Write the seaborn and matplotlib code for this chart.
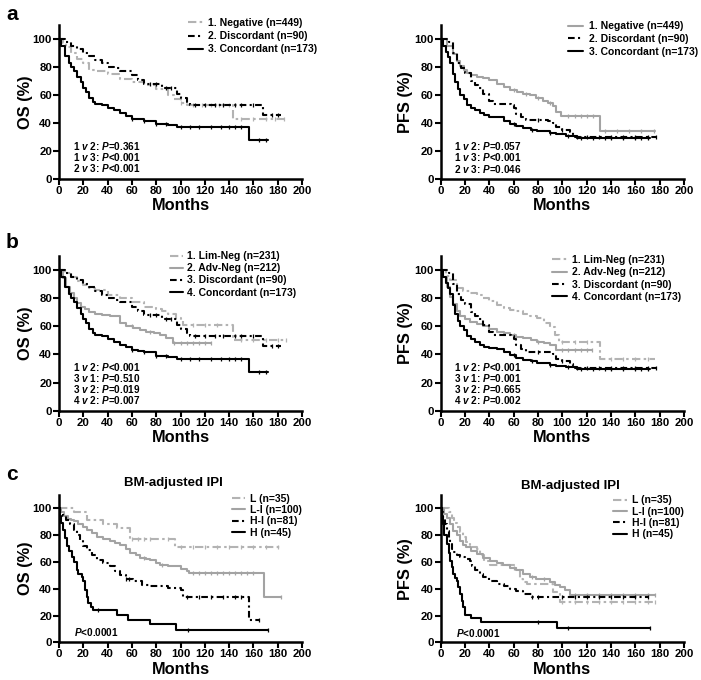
import numpy as np
import pandas as pd
import matplotlib
matplotlib.use("Agg")
import matplotlib.pyplot as plt
import seaborn as sns

# ---------------- data ----------------
# Panel a / b shared curves (OS)
os_dis_t = [0, 5, 10, 15, 20, 25, 30, 35, 40, 45, 50, 60, 65, 70, 85, 97, 100, 105, 108, 168, 183]
os_dis_s = [100, 98, 95, 93, 90, 88, 85, 82.5, 80, 79, 77, 74, 70.5, 68, 65, 61, 58, 55, 53, 46, 46]
os_dis_c = [75, 80, 88, 92, 112, 120, 128, 135, 145, 150, 160, 175, 180]
os_con_t = [0, 2, 5, 8, 10, 12, 15, 18, 20, 22, 25, 28, 30, 35, 40, 45, 50, 55, 60, 65, 70, 80, 90, 97, 156, 172]
os_con_s = [100, 95, 88, 83, 80, 77, 73, 69, 65, 62, 58, 55, 53.5, 53, 51, 49, 47, 45, 43, 42.5, 41.5, 39, 38.5, 37, 27.5, 27.5]
os_con_c = [60, 70, 80, 88, 100, 108, 115, 125, 133, 140, 145, 150, 165, 170]
os_neg_t = [0, 3, 6, 10, 15, 20, 25, 30, 40, 50, 60, 70, 80, 90, 95, 100, 105, 143, 187]
os_neg_s = [100, 97, 94, 90, 86, 83, 78, 77, 75, 71.5, 69, 67, 64, 60, 57, 54, 53, 43, 43]
os_neg_c = [100, 110, 118, 125, 132, 140, 150, 160, 170, 178, 185]

# Panel a / b shared curves (PFS)
pfs_dis_t = [0, 7, 10, 13, 17, 20, 25, 28, 31, 35, 40, 43, 58, 60, 62, 66, 70, 88, 92, 95, 100, 106, 109, 177]
pfs_dis_s = [100, 98, 90, 83, 79, 76, 70, 67, 65, 60.6, 56, 53.5, 53, 51, 46.5, 44, 42, 41.7, 40, 37, 35, 33.5, 30, 30]
pfs_dis_c = [80, 100, 112, 120, 130, 140, 150, 160, 170, 177]
pfs_con_t = [0, 2, 4, 6, 8, 10, 12, 14, 16, 19, 22, 25, 28, 32, 36, 40, 46, 52, 57, 62, 68, 74, 79, 90, 95, 103, 112, 172]
pfs_con_s = [100, 95, 91, 87, 83, 75, 69, 64, 60, 57, 53, 51, 49, 47, 45.5, 44.5, 44, 41.5, 39.4, 37.5, 36.3, 35, 34, 32.8, 31.8, 30.7, 29.5, 29.5]
pfs_con_c = [60, 75, 90, 105, 115, 125, 135, 140, 150, 160, 165, 170]
pfs_neg_t = [0, 5, 10, 13, 16, 19, 22, 25, 30, 35, 40, 46, 52, 57, 63, 68, 73, 78, 84, 88, 92, 95, 99, 131, 176]
pfs_neg_s = [100, 95, 89, 84, 81, 78, 76, 74, 73, 72.4, 71, 68, 65.5, 63.4, 62, 61, 60, 58, 56, 54.5, 52.4, 47.6, 45, 34, 34]
pfs_neg_c = [60, 70, 80, 90, 105, 110, 115, 120, 125, 135, 145, 155, 165, 175]

# Panel b only
os_lim_t = [0, 5, 10, 15, 20, 25, 30, 40, 50, 60, 70, 80, 85, 90, 96, 100, 102, 143, 187]
os_lim_s = [100, 98, 95, 92, 89, 87.5, 86, 82.5, 80, 77.5, 74, 72, 71, 69, 66, 64, 61, 50, 50]
os_lim_c = [110, 120, 130, 150, 160, 170, 180, 187]
os_adv_t = [0, 3, 6, 9, 12, 15, 18, 21, 25, 30, 35, 42, 50, 55, 61, 67, 72, 78, 83, 88, 92, 94, 125]
os_adv_s = [100, 94, 88, 83.4, 80, 76.5, 74, 72, 70, 69, 68, 67, 62, 60, 58.5, 57, 56, 55, 53.8, 52, 51.4, 48.3, 48.3]
os_adv_c = [60, 75, 95, 100, 105, 110, 115, 120, 125]
pfs_lim_t = [0, 4, 8, 13, 18, 24, 30, 35, 40, 46, 52, 57, 62, 68, 73, 79, 85, 90, 94, 97, 131, 176]
pfs_lim_s = [100, 96, 93, 87, 85, 83.4, 82, 80, 78, 75, 73, 71.5, 70.5, 69, 67.5, 65.6, 62, 59.7, 54, 49, 37, 37]
pfs_lim_c = [100, 110, 120, 140, 150, 160, 170]
pfs_adv_t = [0, 2, 5, 8, 10, 13, 16, 20, 24, 30, 35, 40, 46, 52, 57, 62, 68, 74, 79, 85, 90, 95, 124]
pfs_adv_s = [100, 95, 88, 81, 76, 71, 67, 65, 63, 61.5, 60, 58, 56, 55, 53.8, 52.5, 51.4, 50, 49, 48, 46.7, 43, 43]
pfs_adv_c = [60, 80, 100, 105, 110, 115, 120, 124]

# Panel c (BM-adjusted IPI)
os_L_t = [0, 12, 23, 36.5, 47.5, 58.5, 95.6, 183]
os_L_s = [100, 97.5, 91.7, 88.7, 85.5, 77, 71.5, 71.5]
os_L_c = [60, 65, 70, 75, 90, 100, 110, 120, 130, 140, 150, 160, 170, 180]
os_LI_t = [0, 2, 4, 7, 10, 12, 16, 20, 23, 27, 31, 36, 42, 46, 50, 55, 58.5, 63, 67, 72, 75, 80, 83, 90, 94, 100, 105, 107, 168.4, 183]
os_LI_s = [100, 97, 94, 92, 91, 90.5, 88, 86, 84, 81.5, 79, 77, 75.5, 74, 73, 70, 66.7, 65, 63, 62, 61.7, 59, 58, 57, 56.7, 55, 53, 51.5, 34.2, 34.2]
os_LI_c = [70, 85, 110, 115, 120, 125, 130, 135, 140, 145, 150, 155, 160, 183]
os_HI_t = [0, 1, 3, 6, 9, 12, 15, 17, 20, 23, 27, 31, 36, 42, 46, 50, 55, 61, 68, 75, 90, 100, 102, 156, 165]
os_HI_s = [100, 96.7, 94, 91.7, 88, 84, 80, 76.7, 72, 69, 65, 61.7, 59, 56.7, 53, 50.5, 47, 45.5, 43, 41.7, 40.5, 39, 34, 16.7, 16.7]
os_HI_c = [55, 58, 105, 115, 125, 135, 145, 150, 165]
os_H_t = [0, 1, 2, 3.6, 5, 6.3, 8, 10.4, 12, 14.6, 16, 18.7, 20, 21.4, 23, 24, 26, 28, 48, 57, 75, 96, 172]
os_H_s = [100, 94, 89, 84, 78, 72, 68, 64, 60, 54, 51, 49, 46, 39, 34, 29, 26, 24, 20.5, 17, 13.5, 9.5, 9.5]
os_H_c = [32, 106, 172]

pfs_L_t = [0, 7, 9, 11, 13, 16, 18.6, 21, 24, 30, 32, 36, 40.5, 62, 65, 68, 70.6, 92.5, 98, 176]
pfs_L_s = [100, 97, 93, 89, 86, 82, 78.5, 75, 71, 70, 65, 61, 57.4, 53.7, 47.5, 45, 43.8, 37.6, 30, 30]
pfs_L_c = [100, 110, 120, 130, 140, 150, 160, 170, 176]
pfs_LI_t = [0, 3, 5, 8, 10.4, 13, 16, 18.6, 21, 25, 29.5, 35, 40.5, 46, 51, 57, 62, 68, 73, 78, 90, 94, 98, 102, 106, 176]
pfs_LI_s = [100, 96, 93, 88, 83.4, 80, 76, 73, 71, 68, 66, 63, 61, 59, 57.4, 55.5, 53.7, 51, 48.8, 47.5, 45, 43, 41.3, 39, 35, 35]
pfs_LI_c = [60, 75, 85, 110, 120, 130, 140, 150, 160, 170, 176]
pfs_HI_t = [0, 1, 2, 3.5, 5, 6.5, 7.7, 9, 10.4, 13, 16, 20, 24, 26, 28, 32, 35, 40, 46, 52, 57, 62, 68, 74.7, 170]
pfs_HI_s = [100, 97, 93, 88, 83.4, 78, 73.5, 70, 67.3, 65, 64, 62, 61, 57, 53.7, 51, 48.8, 46, 43.8, 42, 40, 38, 36.4, 33.5, 33.5]
pfs_HI_c = [75, 80, 100, 110, 120, 130, 140, 150, 160, 170]
pfs_H_t = [0, 1, 2, 3, 5, 6.5, 7.7, 9, 10.4, 12, 13, 14.5, 16, 17.3, 18.6, 20, 25, 33, 96, 172]
pfs_H_s = [100, 94, 88, 80, 73.5, 67, 61, 56, 51, 48, 46, 41, 36.4, 31, 26.5, 20.5, 18, 15.5, 10.5, 10.5]
pfs_H_c = [80, 105, 172]

a_labels = ["1. Negative (n=449)", "2. Discordant (n=90)", "3. Concordant (n=173)"]
b_labels = ["1. Lim-Neg (n=231)", "2. Adv-Neg (n=212)", "3. Discordant (n=90)", "4. Concordant (n=173)"]
c_labels = ["L (n=35)", "L-I (n=100)", "H-I (n=81)", "H (n=45)"]

a_os_p = ["1 $v$ 2: $P$=0.361", "1 $v$ 3: $P$<0.001", "2 $v$ 3: $P$<0.001"]
a_pfs_p = ["1 $v$ 2: $P$=0.057", "1 $v$ 3: $P$<0.001", "2 $v$ 3: $P$=0.046"]
b_os_p = ["1 $v$ 2: $P$<0.001", "3 $v$ 1: $P$=0.510", "3 $v$ 2: $P$=0.019", "4 $v$ 2: $P$=0.007"]
b_pfs_p = ["1 $v$ 2: $P$<0.001", "3 $v$ 1: $P$=0.001", "3 $v$ 2: $P$=0.665", "4 $v$ 2: $P$=0.002"]
c_p = ["$P$<0.0001"]

x_ticks = [0, 20, 40, 60, 80, 100, 120, 140, 160, 180, 200]
y_ticks = [0, 20, 40, 60, 80, 100]

# ---------------- style ----------------
sns.set_theme(style="ticks")
plt.rcParams["font.family"] = ["Liberation Sans", "DejaVu Sans"]
plt.rcParams["font.weight"] = "bold"
plt.rcParams["axes.labelweight"] = "bold"
plt.rcParams["text.color"] = "black"
plt.rcParams["axes.labelcolor"] = "black"
plt.rcParams["xtick.color"] = "black"
plt.rcParams["ytick.color"] = "black"
plt.rcParams["legend.labelcolor"] = "black"
plt.rcParams["mathtext.fontset"] = "custom"
plt.rcParams["mathtext.it"] = "Liberation Sans:italic:bold"
plt.rcParams["mathtext.rm"] = "Liberation Sans:bold"
plt.rcParams["mathtext.bf"] = "Liberation Sans:bold"

LG = "#b3b3b3"   # light gray dash-dot
MG = "#a3a3a3"   # gray solid
BK = "#000000"
DD = (0, (4, 1.6, 1.2, 1.6))
DASH = (0, (3.2, 1.6, 1.0, 1.6))
SOLID = "-"

FIG_W, FIG_H = 701, 680
fig = plt.figure(figsize=(FIG_W / 100, FIG_H / 100), dpi=100)


def px_axes(left, right, top, bottom):
    return [left / FIG_W, 1 - bottom / FIG_H, (right - left) / FIG_W, (bottom - top) / FIG_H]


def km(ax, t, s, c, color, ls, label):
    t = np.asarray(t, float)
    s = np.asarray(s, float)
    df = pd.DataFrame({"Months": t, "Surv": s})
    sns.lineplot(data=df, x="Months", y="Surv", ax=ax, drawstyle="steps-post",
                 color=color, linestyle=ls, linewidth=1.5, estimator=None,
                 sort=False, errorbar=None, label=label, legend=False)
    line = ax.lines[-1]
    ct = np.asarray(c, float)
    idx = np.clip(np.searchsorted(t, ct, side="right") - 1, 0, len(s) - 1)
    cs = s[idx]
    ax.plot(ct, cs, linestyle="none", marker="|", markersize=3, markeredgewidth=0.9, color=color)
    return line


def setup(ax, ylabel, xlab_px, ylab_x):
    ax.set_xlim(0, 200)
    ax.set_ylim(0, 110)
    ax.set_xticks(x_ticks)
    ax.set_yticks(y_ticks)
    sns.despine(ax=ax)
    for sp in ["left", "bottom"]:
        ax.spines[sp].set_linewidth(1.8)
        ax.spines[sp].set_color("black")
    ax.tick_params(direction="out", length=4, width=1.5, labelsize=8.2, pad=1.0,
                   colors="black")
    for lab in ax.get_xticklabels() + ax.get_yticklabels():
        lab.set_fontweight("bold")
    ax.set_xlabel("Months", fontsize=11.8, fontweight="bold", color="black")
    ax.set_ylabel(ylabel, fontsize=11.8, fontweight="bold", color="black")
    h_px = ax.get_position().height * FIG_H
    ax.xaxis.set_label_coords(0.5, -xlab_px / h_px)
    ax.yaxis.set_label_coords(ylab_x, 0.5)
    ax.set_facecolor("white")


def legend(ax, handles, labels, hx, ytop, hl, pad, ls):
    ax.legend(handles, labels, loc="upper left", bbox_to_anchor=(hx, ytop),
              bbox_transform=ax.transAxes, frameon=False, borderpad=0, borderaxespad=0,
              handlelength=hl, handletextpad=pad, labelspacing=ls,
              prop={"size": 7.5, "weight": "bold"}, labelcolor="black")


def ptext(ax, lines, x, y0, dy):
    for i, txt in enumerate(lines):
        ax.text(x, y0 - i * dy, txt, transform=ax.transAxes, fontsize=7.2,
                fontweight="bold", va="center", ha="left", color="black")


XLAB_PX = 19.5

# ---------- panel a ----------
ax = fig.add_axes(px_axes(59, 302, 25, 179))
h1 = km(ax, os_neg_t, os_neg_s, os_neg_c, LG, DD, a_labels[0])
h2 = km(ax, os_dis_t, os_dis_s, os_dis_c, BK, DASH, a_labels[1])
h3 = km(ax, os_con_t, os_con_s, os_con_c, BK, SOLID, a_labels[2])
setup(ax, "OS (%)", XLAB_PX, -0.107)
legend(ax, [h1, h2, h3], a_labels, 0.532, 1.045, 1.45, 0.45, 0.3)
ptext(ax, a_os_p, 0.058, 0.212, 0.069)

ax = fig.add_axes(px_axes(440.7, 684, 25, 179))
h1 = km(ax, pfs_neg_t, pfs_neg_s, pfs_neg_c, MG, SOLID, a_labels[0])
h2 = km(ax, pfs_dis_t, pfs_dis_s, pfs_dis_c, BK, DASH, a_labels[1])
h3 = km(ax, pfs_con_t, pfs_con_s, pfs_con_c, BK, SOLID, a_labels[2])
setup(ax, "PFS (%)", XLAB_PX, -0.113)
legend(ax, [h1, h2, h3], a_labels, 0.524, 1.025, 1.45, 0.55, 0.26)
ptext(ax, a_pfs_p, 0.055, 0.212, 0.072)

# ---------- panel b ----------
ax = fig.add_axes(px_axes(59, 302, 255.9, 410.7))
h1 = km(ax, os_lim_t, os_lim_s, os_lim_c, LG, DD, b_labels[0])
h2 = km(ax, os_adv_t, os_adv_s, os_adv_c, MG, SOLID, b_labels[1])
h3 = km(ax, os_dis_t, os_dis_s, os_dis_c, BK, DASH, b_labels[2])
h4 = km(ax, os_con_t, os_con_s, os_con_c, BK, SOLID, b_labels[3])
setup(ax, "OS (%)", XLAB_PX, -0.107)
legend(ax, [h1, h2, h3, h4], b_labels, 0.455, 1.03, 1.3, 0.4, 0.2)
ptext(ax, b_os_p, 0.058, 0.284, 0.072)

ax = fig.add_axes(px_axes(440.7, 684, 255.9, 410.7))
h1 = km(ax, pfs_lim_t, pfs_lim_s, pfs_lim_c, LG, DD, b_labels[0])
h2 = km(ax, pfs_adv_t, pfs_adv_s, pfs_adv_c, MG, SOLID, b_labels[1])
h3 = km(ax, pfs_dis_t, pfs_dis_s, pfs_dis_c, BK, DASH, b_labels[2])
h4 = km(ax, pfs_con_t, pfs_con_s, pfs_con_c, BK, SOLID, b_labels[3])
setup(ax, "PFS (%)", XLAB_PX, -0.113)
legend(ax, [h1, h2, h3, h4], b_labels, 0.457, 1.005, 1.45, 0.48, 0.22)
ptext(ax, b_pfs_p, 0.055, 0.284, 0.072)

# ---------- panel c ----------
ax = fig.add_axes(px_axes(59, 302, 495, 642.3))
h1 = km(ax, os_L_t, os_L_s, os_L_c, LG, DD, c_labels[0])
h2 = km(ax, os_LI_t, os_LI_s, os_LI_c, MG, SOLID, c_labels[1])
h3 = km(ax, os_HI_t, os_HI_s, os_HI_c, BK, DASH, c_labels[2])
h4 = km(ax, os_H_t, os_H_s, os_H_c, BK, SOLID, c_labels[3])
setup(ax, "OS (%)", XLAB_PX, -0.107)
legend(ax, [h1, h2, h3, h4], c_labels, 0.711, 1.01, 1.28, 0.48, 0.13)
ptext(ax, c_p, 0.062, 0.072, 0.07)
ax.text((173 - 59) / 243, (642.3 - 483) / 147.2, "BM-adjusted IPI", transform=ax.transAxes,
        ha="center", va="center", fontsize=9.5, fontweight="bold", color="black")

ax = fig.add_axes(px_axes(440.7, 684, 495, 642.3))
h1 = km(ax, pfs_L_t, pfs_L_s, pfs_L_c, LG, DD, c_labels[0])
h2 = km(ax, pfs_LI_t, pfs_LI_s, pfs_LI_c, MG, SOLID, c_labels[1])
h3 = km(ax, pfs_HI_t, pfs_HI_s, pfs_HI_c, BK, DASH, c_labels[2])
h4 = km(ax, pfs_H_t, pfs_H_s, pfs_H_c, BK, SOLID, c_labels[3])
setup(ax, "PFS (%)", XLAB_PX, -0.113)
legend(ax, [h1, h2, h3, h4], c_labels, 0.71, 0.998, 1.28, 0.48, 0.13)
ptext(ax, c_p, 0.062, 0.066, 0.07)
ax.text((570 - 440.7) / 243, (642.3 - 485.7) / 147.2, "BM-adjusted IPI", transform=ax.transAxes,
        ha="center", va="center", fontsize=9.5, fontweight="bold", color="black")

# panel letters
for letter, ypx in [("a", 20), ("b", 248), ("c", 480)]:
    fig.text(6 / FIG_W, 1 - ypx / FIG_H, letter, fontsize=15, fontweight="bold",
             va="baseline", ha="left", color="black")

fig.savefig("out.png", dpi=100, facecolor="white")
